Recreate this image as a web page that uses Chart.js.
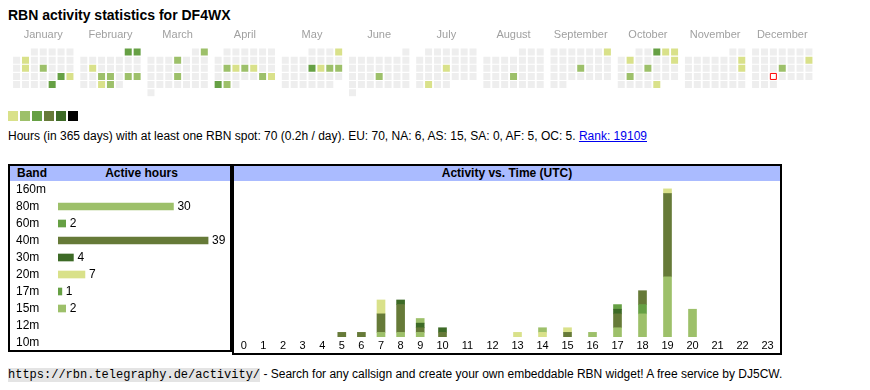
<!DOCTYPE html>
<html>
<head>
<meta charset="utf-8">
<script src="https://cdn.jsdelivr.net/npm/chart.js@4/dist/chart.umd.min.js"></script>
<style>
  body { margin: 0; width: 870px; height: 390px; position: relative; overflow: hidden; background: #fff;
         font-family: "Liberation Sans", Arial, sans-serif; color: #000; }
  #title { position: absolute; left: 8px; top: 7px; font-size: 14px; font-weight: bold; line-height: 16px; white-space: nowrap; }
  #calWrap { position: absolute; left: 0; top: 24px; width: 870px; height: 78px; }
  #legend { position: absolute; left: 8px; top: 111px; height: 10px; }
  #legend span { position: absolute; top: 0; width: 10px; height: 10px; }
  #summary { position: absolute; left: 8px; top: 129px; font-size: 12px; line-height: 14px; white-space: nowrap; }
  #summary a { color: #0000ee; }
  .box { position: absolute; border: 2px solid #000; box-sizing: border-box; }
  #bandBox { left: 8px; top: 164px; width: 224px; height: 188px; }
  #timeBox { left: 232px; top: 164px; width: 550px; height: 191px; }
  .head { position: absolute; left: 0; right: 0; top: 0; height: 15px; background: #aabbff;
          font-weight: bold; font-size: 12px; line-height: 15px; white-space: nowrap; }
  #bandWrap { position: absolute; left: 10px; top: 181px; width: 220px; height: 170px; }
  #hourWrap { position: absolute; left: 234px; top: 181px; width: 546px; height: 172px; }
  #footer { position: absolute; left: 8px; top: 367px; font-size: 12px; line-height: 15px; white-space: nowrap; }
  #footer code { font-family: "Liberation Mono", "DejaVu Sans Mono", monospace; font-size: 12px; background: #e4e4e4; }
</style>
</head>
<body>
<div id="title">RBN activity statistics for DF4WX</div>
<div id="calWrap"><canvas id="cal"></canvas></div>
<div id="legend"></div>
<div id="summary">Hours (in 365 days) with at least one RBN spot: 70 (0.2h / day). EU: 70, NA: 6, AS: 15, SA: 0, AF: 5, OC: 5. <a href="#">Rank: 19109</a></div>
<div class="box" id="bandBox">
  <div class="head"><span style="position:absolute;left:7px">Band</span><span style="position:absolute;left:43px;width:177px;text-align:center">Active hours</span></div>
</div>
<div class="box" id="timeBox">
  <div class="head" style="text-align:center">Activity vs. Time (UTC)</div>
</div>
<div id="bandWrap"><canvas id="bands"></canvas></div>
<div id="hourWrap"><canvas id="hourly"></canvas></div>
<div id="footer"><code>https://rbn.telegraphy.de/activity/</code> - Search for any callsign and create your own embeddable RBN widget! A free service by DJ5CW.</div>

<script>
// ---- data ----
const year = 2025;
const months = ['January', 'February', 'March', 'April', 'May', 'June', 'July', 'August', 'September', 'October', 'November', 'December'];
const activeDays = [
  '01-07', '01-14', '01-16', '01-25', '01-26', '01-31',
  '02-01', '02-02', '02-11', '02-19', '02-20', '02-22', '02-23', '02-26', '02-27',
  '03-02', '03-06', '03-20',
  '04-15', '04-16', '04-17', '04-18', '04-26', '04-27', '04-28', '04-29',
  '05-04', '05-15', '05-16', '05-17', '05-18',
  '06-19',
  '07-17', '07-29',
  '08-21',
  '09-07', '09-18',
  '10-03', '10-04', '10-05', '10-07', '10-12', '10-16', '10-21', '10-31',
  '11-09', '11-16',
  '12-14', '12-18'
];
const activeLevels = [
  1, 1, 2, 3, 1, 3,
  3, 3, 1, 2, 2, 2, 2, 1, 2,
  2, 2, 2,
  2, 1, 2, 1, 2, 1, 3, 2,
  1, 3, 1, 2, 2,
  2,
  1, 1,
  2,
  1, 2,
  3, 1, 1, 1, 1, 2, 2, 1,
  1, 1,
  1, 2
];
const today = '12-24';

const bands = ['160m', '80m', '60m', '40m', '30m', '20m', '17m', '15m', '12m', '10m'];
const bandHours = [0, 30, 2, 39, 4, 7, 1, 2, 0, 0];

const hours = [0, 1, 2, 3, 4, 5, 6, 7, 8, 9, 10, 11, 12, 13, 14, 15, 16, 17, 18, 19, 20, 21, 22, 23];
const hours80 = [0, 0, 0, 0, 0, 0, 0, 1, 1, 1, 0, 0, 0, 0, 0, 0, 1, 2, 5, 13, 6, 0, 0, 0];
const hours60 = [0, 0, 0, 0, 0, 0, 0, 0, 0, 0, 0, 0, 0, 0, 0, 0, 0, 0, 2, 0, 0, 0, 0, 0];
const hours40 = [0, 0, 0, 0, 0, 1, 1, 4, 6, 1, 1, 0, 0, 0, 0, 1, 0, 3, 3, 18, 0, 0, 0, 0];
const hours30 = [0, 0, 0, 0, 0, 0, 0, 0, 1, 1, 1, 0, 0, 0, 0, 0, 0, 1, 0, 0, 0, 0, 0, 0];
const hours20 = [0, 0, 0, 0, 0, 0, 0, 3, 0, 0, 0, 0, 0, 1, 1, 1, 0, 0, 0, 1, 0, 0, 0, 0];
const hours17 = [0, 0, 0, 0, 0, 0, 0, 0, 0, 0, 0, 0, 0, 0, 0, 0, 0, 1, 0, 0, 0, 0, 0, 0];
const hours15 = [0, 0, 0, 0, 0, 0, 0, 0, 0, 1, 0, 0, 0, 0, 1, 0, 0, 0, 0, 0, 0, 0, 0, 0];

// ---- styles ----
const levelColors = ['#eeeeee', '#d9e18a', '#9dc06a', '#66a044', '#667a38', '#3d6a26', '#000000'];
const bandColors = ['#d9e18a', '#9dc06a', '#66a044', '#667a38', '#3d6a26', '#d9e18a', '#66a044', '#9dc06a', '#667a38', '#3d6a26'];

Chart.defaults.font.family = '"Liberation Sans", Arial, sans-serif';
Chart.defaults.color = '#000';

// legend swatches
levelColors.slice(1).forEach((c, i) => {
  const s = document.createElement('span');
  s.style.left = (i * 12) + 'px';
  s.style.background = c;
  document.getElementById('legend').appendChild(s);
});

// ---- calendar ----
const cells = [];
months.forEach((name, m) => {
  const first = (new Date(year, m, 1).getDay() + 6) % 7; // monday first
  const days = new Date(year, m + 1, 0).getDate();
  for (let d = 1; d <= days; d++) {
    const idx = first + d - 1;
    const key = String(m + 1).padStart(2, '0') + '-' + String(d).padStart(2, '0');
    const a = activeDays.indexOf(key);
    cells.push({
      x: 11.5 + 68 * m + 9 * (idx % 7),
      y: Math.floor(idx / 7),
      level: a >= 0 ? activeLevels[a] : 0,
      today: key === today
    });
  }
});

new Chart('cal', {
  type: 'scatter',
  data: {
    datasets: [{
      data: cells.map(c => ({ x: c.x, y: c.y })),
      pointStyle: 'rect',
      pointRadius: cells.map(c => c.today ? 6 * Math.SQRT1_2 : 7 * Math.SQRT1_2),
      pointBackgroundColor: cells.map(c => c.today ? '#ffffff' : levelColors[c.level]),
      pointBorderColor: cells.map(c => c.today ? '#ff0000' : 'rgba(0,0,0,0)'),
      pointBorderWidth: cells.map(c => c.today ? 1 : 0),
      showLine: false
    }]
  },
  options: {
    animation: false,
    events: [],
    maintainAspectRatio: false,
    layout: { padding: 0 },
    plugins: { legend: { display: false }, tooltip: { enabled: false } },
    scales: {
      x: {
        type: 'linear', position: 'top', min: 0, max: 870,
        grid: { display: false, drawTicks: false }, border: { display: false },
        afterBuildTicks: ax => { ax.ticks = months.map((n, i) => ({ value: 38.5 + 68 * i })); },
        afterFit: ax => { ax.height = 24; },
        ticks: { autoSkip: false, maxRotation: 0, padding: 6, color: '#a0a0a0', font: { size: 11 }, callback: (v, i) => months[i] }
      },
      y: { type: 'linear', reverse: true, min: -0.5, max: 5.5, display: false }
    }
  }
});

// ---- band table ----
const valueLabels = {
  id: 'valueLabels',
  afterDatasetsDraw(chart) {
    const ctx = chart.ctx;
    ctx.save();
    ctx.font = '12px "Liberation Sans", Arial, sans-serif';
    ctx.fillStyle = '#000';
    ctx.textBaseline = 'middle';
    chart.getDatasetMeta(0).data.forEach((bar, i) => {
      if (bandHours[i] > 0) ctx.fillText(bandHours[i], bar.x + 4, bar.y);
    });
    ctx.restore();
  }
};

new Chart('bands', {
  type: 'bar',
  data: {
    labels: bands,
    datasets: [{ data: bandHours.map(v => v || null), backgroundColor: bandColors, barThickness: 7, borderWidth: 0 }]
  },
  options: {
    indexAxis: 'y',
    animation: false,
    events: [],
    maintainAspectRatio: false,
    layout: { padding: { left: 6 } },
    plugins: { legend: { display: false }, tooltip: { enabled: false } },
    scales: {
      x: { display: false, min: 0, max: 44.7 },
      y: {
        grid: { display: false, drawTicks: false }, border: { display: false },
        afterFit: ax => { ax.width = 42; ax.paddingTop = 0; ax.paddingBottom = 0; },
        ticks: { autoSkip: false, crossAlign: 'far', padding: 0, font: { size: 12 } }
      }
    }
  },
  plugins: [valueLabels]
});

// ---- activity vs time ----
const hourCenters = [];
let acc = 0;
hours.forEach(h => {
  const w = String(h).length === 1 ? 19.6 : 25;
  hourCenters.push(acc + w / 2);
  acc += w;
});

const hourSeries = [
  { label: '80m', values: hours80, color: bandColors[1] },
  { label: '60m', values: hours60, color: bandColors[2] },
  { label: '40m', values: hours40, color: bandColors[3] },
  { label: '30m', values: hours30, color: bandColors[4] },
  { label: '20m', values: hours20, color: bandColors[5] },
  { label: '17m', values: hours17, color: bandColors[6] },
  { label: '15m', values: hours15, color: bandColors[7] }
];

new Chart('hourly', {
  type: 'bar',
  data: {
    datasets: hourSeries.map(s => ({
      label: s.label,
      data: hours.map((h, i) => ({ x: hourCenters[i], y: s.values[i] || null })),
      backgroundColor: s.color,
      barThickness: 8,
      borderWidth: 0
    }))
  },
  options: {
    animation: false,
    events: [],
    maintainAspectRatio: false,
    plugins: { legend: { display: false }, tooltip: { enabled: false } },
    scales: {
      x: {
        type: 'linear', stacked: true, offset: false, min: 0, max: 546,
        grid: { display: false, drawTicks: false }, border: { display: false },
        afterBuildTicks: ax => { ax.ticks = hourCenters.map(v => ({ value: v })); },
        afterFit: ax => { ax.height = 16; ax.paddingLeft = 0; ax.paddingRight = 0; },
        ticks: { autoSkip: false, maxRotation: 0, padding: 2, font: { size: 11 }, callback: (v, i) => hours[i] }
      },
      y: { stacked: true, min: 0, max: 33.7, display: false }
    }
  }
});
</script>
</body>
</html>
